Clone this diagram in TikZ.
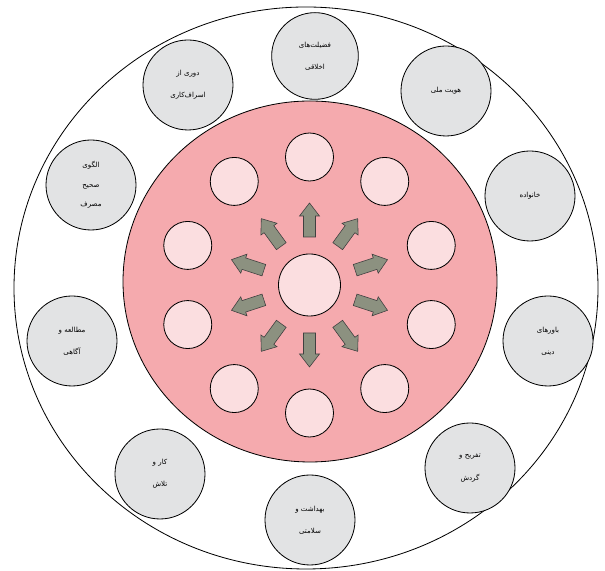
\documentclass[tikz,border=0pt]{standalone}
\usepackage{fontspec}
\newfontfamily\farsi[Script=Arabic]{DejaVu Sans}
\TeXXeTstate=1
\usetikzlibrary{calc}
\definecolor{outerpink}{RGB}{245,170,174}
\definecolor{slotpink}{RGB}{251,222,224}
\definecolor{ballgray}{RGB}{226,227,228}
\definecolor{flowgreen}{RGB}{140,145,128}
\newcommand{\faline}[1]{\beginR #1\endR}

\begin{document}
\begin{tikzpicture}[x=0.03cm,y=0.03cm,
    topic/.style={circle,draw,line width=0.7pt,fill=ballgray,minimum size=2.7cm,inner sep=0pt,
        align=center,font=\farsi\fontsize{6}{19}\selectfont},
    slot/.style={circle,draw,line width=0.7pt,fill=slotpink,minimum size=1.44cm,inner sep=0pt},
    flow/.style={draw=black!75,fill=flowgreen,line width=0.5pt,line join=miter}]
    \useasboundingbox (0,0) rectangle (605,571);
    % rings
    \draw[line width=0.7pt,fill=white] (306,283) ellipse [x radius=292, y radius=281];
    \draw[line width=0.7pt,fill=outerpink] (310,289.5) ellipse [x radius=187, y radius=180.5];
    % hub, arrows and empty slots
    \node[slot,minimum size=1.86cm] (hub) at (309.5,286) {};
    \foreach \k in {0,...,9}{
        \pgfmathsetmacro\ang{90+36*\k}
        \node[slot] (s\k) at ($(hub)+(\ang:128)$) {};
        \filldraw[flow,shift={(hub)},rotate=\ang] (48,-6) -- (69,-6) -- (69,-10) -- (82,0)
            -- (69,10) -- (69,6) -- (48,6) -- cycle;
    }
    % outer topics
    \node[topic,minimum size=2.6cm] (ethics) at (315,515) {\faline{فضیلت‌های}\\\faline{اخلاقی}};
    \node[topic] (thrift) at (188,486) {\faline{دوری از}\\\faline{اسراف‌کاری}};
    \node[topic] (identity) at (446,480) {\faline{هویت ملی}};
    \node[topic,font=\farsi\fontsize{6}{16.5}\selectfont] (pattern) at (91,386) {\faline{الگوی}\\\faline{صحیح}\\\faline{مصرف}};
    \node[topic] (family) at (530,375) {\faline{خانواده}};
    \node[topic] (study) at (72,230) {\faline{مطالعه و}\\\faline{آگاهی}};
    \node[topic] (faith) at (548,230) {\faline{باورهای}\\\faline{دینی}};
    \node[topic] (work) at (160,97) {\faline{کار و}\\\faline{تلاش}};
    \node[topic] (leisure) at (470,103) {\faline{تفریح و}\\\faline{گردش}};
    \node[topic] (health) at (310,51) {\faline{بهداشت و}\\\faline{سلامتی}};
\end{tikzpicture}
\end{document}
